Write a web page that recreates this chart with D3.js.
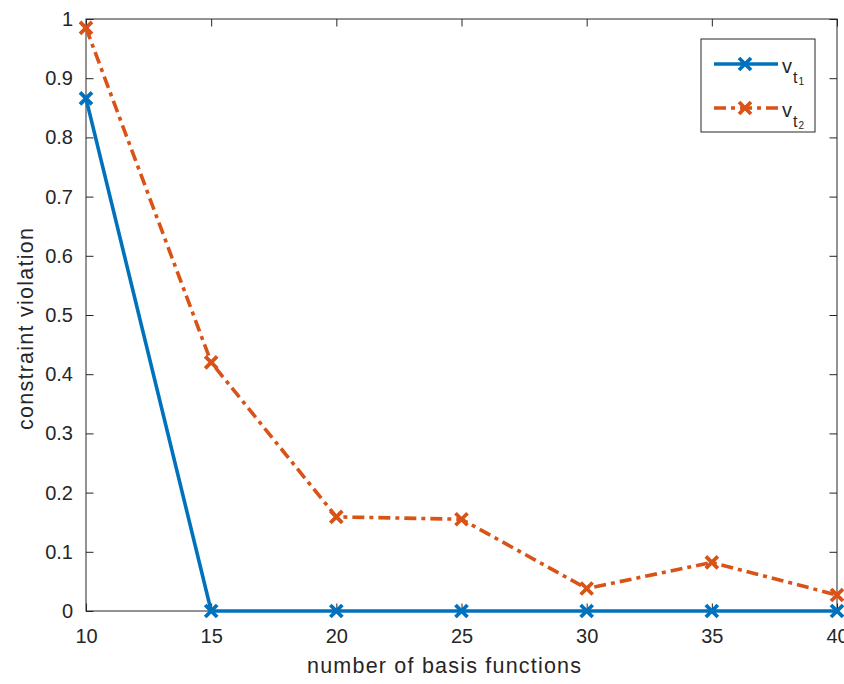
<!DOCTYPE html>
<html><head><meta charset="utf-8">
<script src="https://cdn.jsdelivr.net/npm/d3@7"></script>
<style>body{margin:0;background:#fff}svg{display:block}text{font-family:"Liberation Sans",Arial,sans-serif;fill:#262626}</style>
</head><body><svg id="c" width="844" height="684"></svg>
<script>
const xValues = [10, 15, 20, 25, 30, 35, 40];
const vt1 = [0.866, 0, 0, 0, 0, 0, 0];
const vt2 = [0.985, 0.42, 0.159, 0.155, 0.038, 0.082, 0.027];
const xTicks = [10, 15, 20, 25, 30, 35, 40];
const yTicks = [0, 0.1, 0.2, 0.3, 0.4, 0.5, 0.6, 0.7, 0.8, 0.9, 1];
const seriesNames = ["1", "2"];
const colors = ["#0072BD", "#D95319"];

const svg = d3.select("#c");
const L = 86, R = 837, T = 19, B = 611;
const x = d3.scaleLinear().domain([10, 40]).range([L, R]);
const y = d3.scaleLinear().domain([0, 1]).range([B, T]);
const tickFont = 20, labelFont = 21.5;

const axCol = "#262626";
svg.append("g").attr("transform", `translate(0,${B})`)
  .call(d3.axisBottom(x).tickValues(xTicks).tickSize(-7.5).tickPadding(18).tickFormat(d3.format("d")))
  .call(g => { g.select(".domain").remove(); g.selectAll("line").attr("stroke", axCol);
    g.selectAll("text").attr("font-size", tickFont).attr("fill", axCol); });
svg.append("g").attr("transform", `translate(0,${T})`)
  .call(d3.axisTop(x).tickValues(xTicks).tickSize(-7.5).tickFormat(""))
  .call(g => { g.select(".domain").remove(); g.selectAll("line").attr("stroke", axCol); });
svg.append("g").attr("transform", `translate(${L},0)`)
  .call(d3.axisLeft(y).tickValues(yTicks).tickSize(-7.5).tickPadding(13).tickFormat(d => d === 0 || d === 1 ? d3.format("d")(d) : d3.format(".1f")(d)))
  .call(g => { g.select(".domain").remove(); g.selectAll("line").attr("stroke", axCol);
    g.selectAll("text").attr("font-size", tickFont).attr("fill", axCol); });
svg.append("g").attr("transform", `translate(${R},0)`)
  .call(d3.axisRight(y).tickValues(yTicks).tickSize(-7.5).tickFormat(""))
  .call(g => { g.select(".domain").remove(); g.selectAll("line").attr("stroke", axCol); });
svg.append("rect").attr("x", L).attr("y", T).attr("width", R - L).attr("height", B - T)
  .attr("fill", "none").attr("stroke", axCol).attr("stroke-width", 1);

svg.append("text").attr("x", 307).attr("y", 673)
  .attr("font-size", labelFont).attr("textLength", 274).attr("lengthAdjust", "spacing")
  .text("number of basis functions");
svg.append("text").attr("transform", `translate(33,430) rotate(-90)`)
  .attr("font-size", labelFont).attr("textLength", 202).attr("lengthAdjust", "spacing")
  .text("constraint violation");

const line = d3.line().x((d, i) => x(xValues[i])).y(d => y(d));
const dashes = [null, "12,5,4,5"];
[vt1, vt2].forEach((s, k) => {
  svg.append("path").datum(s).attr("d", line).attr("fill", "none")
    .attr("stroke", colors[k]).attr("stroke-width", 3.6).attr("stroke-dasharray", dashes[k]);
});
function marker(g, cx, cy, c) {
  const r = 6;
  g.append("path").attr("d", `M${cx - r},${cy - r}L${cx + r},${cy + r}M${cx - r},${cy + r}L${cx + r},${cy - r}`)
    .attr("stroke", c).attr("stroke-width", 3.8).attr("fill", "none");
}
[vt1, vt2].forEach((s, k) => {
  s.forEach((v, i) => marker(svg, x(xValues[i]), y(v), colors[k]));
});

const lg = svg.append("g");
lg.append("rect").attr("x", 701).attr("y", 39).attr("width", 114).attr("height", 93)
  .attr("fill", "#fff").attr("stroke", axCol).attr("stroke-width", 1);
const ly = [64, 108];
seriesNames.forEach((n, k) => {
  lg.append("line").attr("x1", 714).attr("x2", 778).attr("y1", ly[k]).attr("y2", ly[k])
    .attr("stroke", colors[k]).attr("stroke-width", 3.6).attr("stroke-dasharray", dashes[k]);
  marker(lg, 745, ly[k], colors[k]);
  const t = lg.append("text").attr("x", 782).attr("y", ly[k] + 9).attr("font-size", 20);
  t.append("tspan").text("v");
  t.append("tspan").attr("dy", 10).attr("dx", 1).attr("font-size", 16).text("t");
  t.append("tspan").attr("dy", 2).attr("dx", 1).attr("font-size", 10).text(n);
});
</script></body></html>
